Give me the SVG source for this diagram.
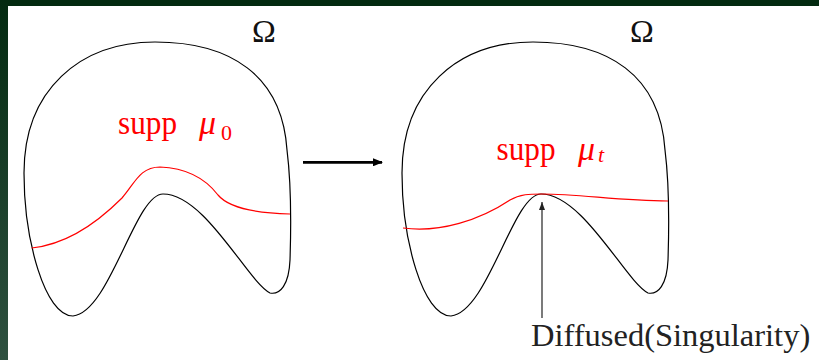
<svg xmlns="http://www.w3.org/2000/svg" width="819" height="360" viewBox="0 0 819 360">
<defs>
<linearGradient id="bg" x1="0" y1="0" x2="0" y2="1">
<stop offset="0" stop-color="#032a10"/>
<stop offset="1" stop-color="#2f5140"/>
</linearGradient>
<marker id="ah" markerWidth="10" markerHeight="8" refX="9" refY="4" orient="auto" markerUnits="userSpaceOnUse">
<path d="M0,0 L10,4 L0,8 Z" fill="#000"/>
</marker>
<marker id="ah2" markerWidth="8" markerHeight="6" refX="8" refY="3" orient="auto" markerUnits="userSpaceOnUse">
<path d="M0,0 L8,3 L0,6 Z" fill="#222"/>
</marker>
<path id="omega" d="M155,42 C230,42 282,75 287,150 C292,190 291,230 290,260 C289,285 280,295 270,293 C248,282 205,194 163,194 C135,194 110,312 73,316 C45,316 24,240 24,173 C24,90 80,42 155,42 Z"/>
</defs>
<style>
.dom{fill:none;stroke:#000;stroke-width:1.2}
.supp{fill:none;stroke:#ff0000;stroke-width:1.2}
.serif{font-family:"Liberation Serif","Times New Roman",serif}
.red{fill:#ff0000}
</style>
<rect width="819" height="360" fill="#fff"/>
<rect x="0" y="0" width="819" height="6" fill="#032a10"/>
<rect x="0" y="0" width="8" height="360" fill="url(#bg)"/>
<g id="left-domain">
<use href="#omega" class="dom"/>
<path class="supp" d="M31.7,248 C70,244 100,220 122,198 C135,183 140,167 160,167 C185,168 205,178 218,195 C228,207 250,213 290,214"/>
<text class="serif" font-size="32" fill="#111" x="252" y="42">Ω</text>
<text class="serif red" font-size="34" x="118" y="134" textLength="59" lengthAdjust="spacingAndGlyphs">supp</text>
<text class="serif red" font-size="34" font-style="italic" x="199" y="134">μ</text>
<text class="serif red" font-size="22" x="221" y="140">0</text>
</g>
<g id="right-domain">
<use href="#omega" class="dom" transform="translate(378,0)"/>
<path class="supp" d="M403,228 C440,233 480,220 510,200 C520,194 530,194 542,194 C580,194 620,201 668,201"/>
<text class="serif" font-size="32" fill="#111" x="630" y="42">Ω</text>
<text class="serif red" font-size="34" x="496.5" y="160" textLength="59" lengthAdjust="spacingAndGlyphs">supp</text>
<text class="serif red" font-size="34" font-style="italic" x="578" y="160">μ</text>
<text class="serif red" font-size="22" font-style="italic" x="598" y="162">t</text>
</g>
<g id="note">
<text class="serif" font-size="32.5" fill="#222" x="531" y="346">Diffused(Singularity)</text>
</g>
<g id="connectors">
<line x1="303" y1="162.3" x2="382" y2="162.3" stroke="#000" stroke-width="2.7" marker-end="url(#ah)"/>
<line x1="542" y1="318" x2="542" y2="202" stroke="#222" stroke-width="1.2" marker-end="url(#ah2)"/>
</g>
</svg>
